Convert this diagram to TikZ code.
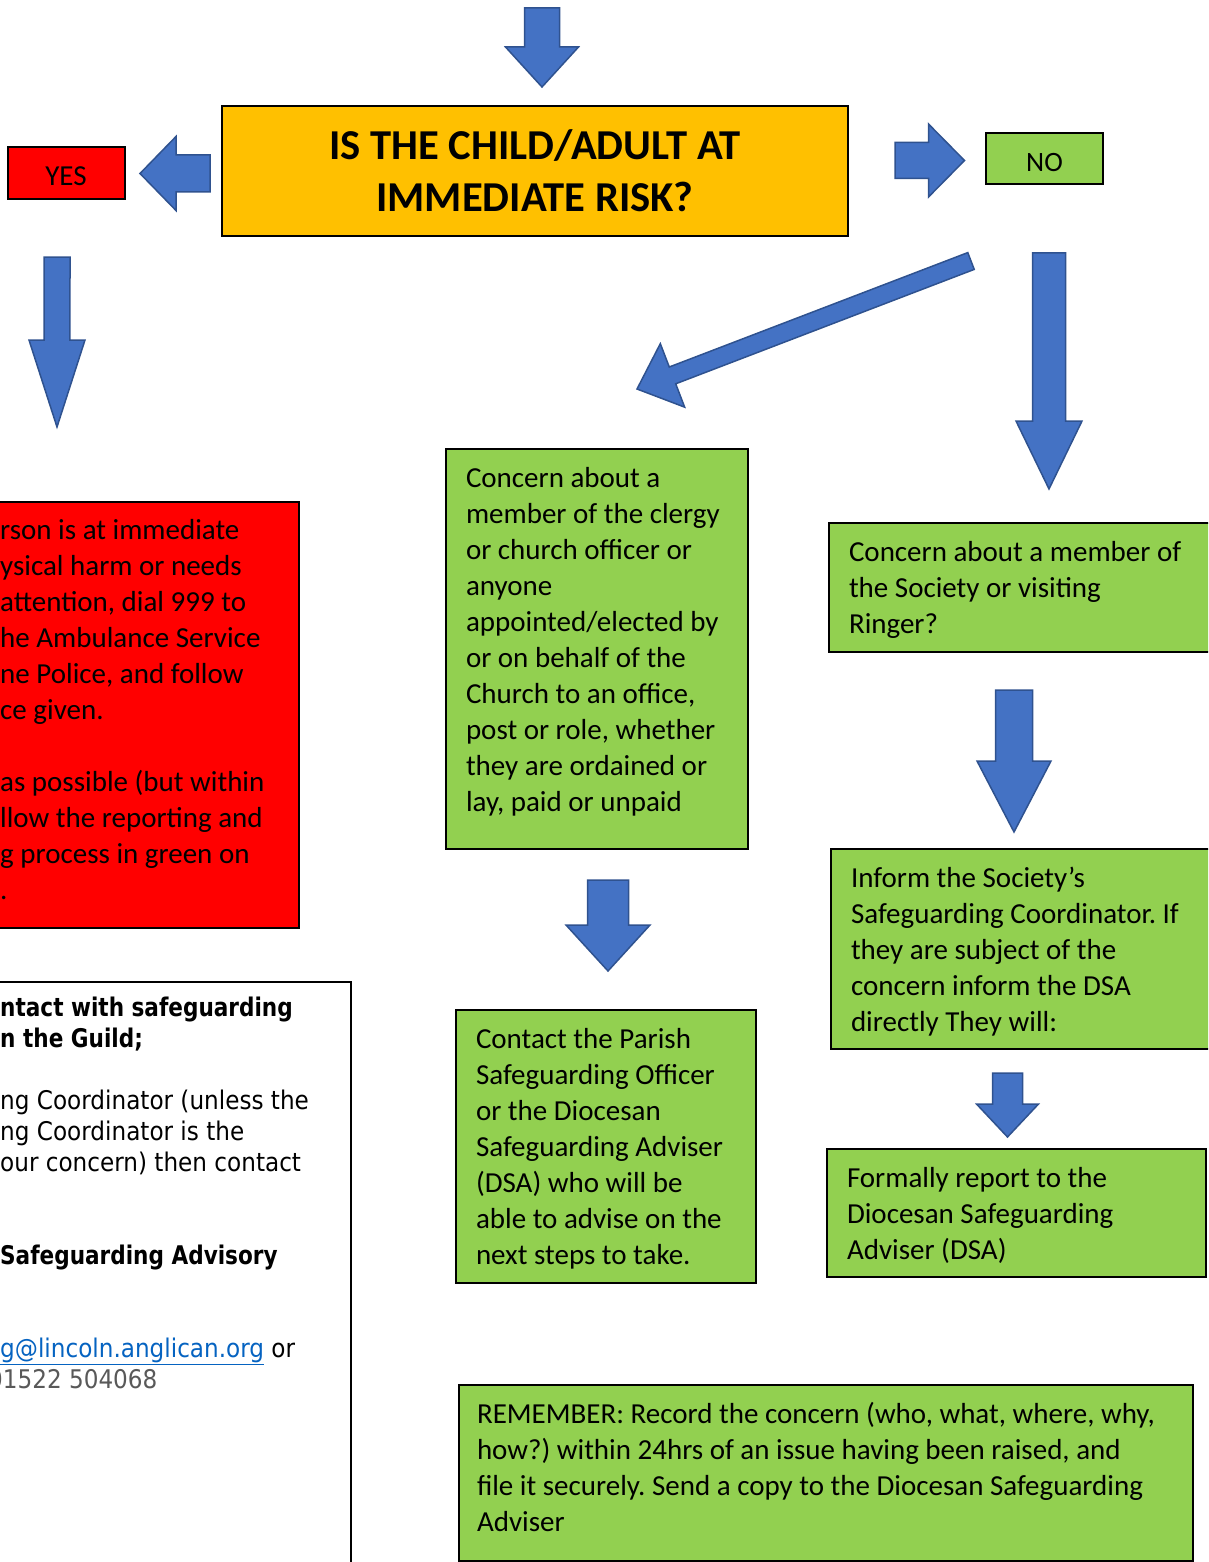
\documentclass[tikz,border=0pt]{standalone}
\usepackage{fontspec}
\setmainfont{Carlito}
\newfontfamily\tahoma[FakeStretch=0.9, BoldFeatures={FakeStretch=0.84}]{DejaVu Sans}
\usetikzlibrary{calc, positioning}
\frenchspacing

\definecolor{riskyellow}{HTML}{FFC000}
\definecolor{yesred}{HTML}{FF0000}
\definecolor{nogreen}{HTML}{92D050}
\definecolor{arrowblue}{HTML}{4472C4}
\definecolor{arrowrim}{HTML}{2F528F}
\definecolor{linkblue}{HTML}{0563C1}
\definecolor{phonegrey}{HTML}{595959}

\tikzset{
	box/.style={draw=black, line width=2pt, outer sep=0pt, inner xsep=20pt, inner ysep=13.5pt, anchor=north west, font=\fontsize{29}{36}\selectfont},
	greenbox/.style={box, fill=nogreen},
	fat/.style n args={3}{fill=arrowblue, draw=arrowrim, line width=1.5pt, line join=miter,
		to path={($(\tikztostart)!{#1*1pt}!90:(\tikztotarget)$)
			-- ($(\tikztotarget)!{sqrt((#3)^2+(#1)^2)*1pt}!{-atan(#1/#3)}:(\tikztostart)$)
			-- ($(\tikztotarget)!{sqrt((#3)^2+(#2)^2)*1pt}!{-atan(#2/#3)}:(\tikztostart)$)
			-- (\tikztotarget)
			-- ($(\tikztotarget)!{sqrt((#3)^2+(#2)^2)*1pt}!{atan(#2/#3)}:(\tikztostart)$)
			-- ($(\tikztotarget)!{sqrt((#3)^2+(#1)^2)*1pt}!{atan(#1/#3)}:(\tikztostart)$)
			-- ($(\tikztostart)!{#1*1pt}!-90:(\tikztotarget)$) -- cycle}},
}

\begin{document}
\begin{tikzpicture}[x=1pt, y=-1pt]
	\useasboundingbox (0,0) rectangle (1208,1562);
	\clip (0,0) rectangle (1208,1562);

	\node [box, fill=riskyellow, anchor=center, minimum width=626pt, minimum height=130pt, align=center, font=\bfseries\fontsize{42.6}{52}\selectfont] (risk) at (535,171) {IS THE CHILD/ADULT AT\\IMMEDIATE RISK?};
	\node [box, fill=yesred, anchor=center, minimum width=117pt, minimum height=52pt, inner sep=0pt, text height=25pt, text depth=0pt] (yes) at (66,173.5) {YES};
	\node [box, fill=nogreen, anchor=center, minimum width=117pt, minimum height=51pt, inner sep=0pt, text height=26pt, text depth=0pt, font=\fontsize{28}{34}\selectfont] (no) at (1044.5,158.5) {NO};

	\node [box, fill=yesred, minimum width=500pt, minimum height=426pt] (imm) at (-201,502) {};
	\node [anchor=base west, inner sep=0pt, font=\fontsize{29}{36}\selectfont] (immtext) at (0,539) {\parbox[t]{300pt}{rson is at immediate\\ ysical harm or needs\\ attention, dial 999 to\\ he Ambulance Service\\ ne Police, and follow\\ ce given.\\[36pt] as possible (but within\\ llow the reporting and\\ g process in green on\\ .}};

	\node [box, fill=white, minimum width=600pt, minimum height=700pt] (guild) at (-249,982) {};
	\node [anchor=base west, inner sep=0pt, font=\tahoma\fontsize{25.7}{31}\selectfont] (guildtext) at (0,1016) {\parbox[t]{350pt}{\textbf{ntact with safeguarding}\\ \textbf{n the Guild;}\\[31pt] ng Coordinator (unless the\\ ng Coordinator is the\\ our concern) then contact\\[62pt] \textbf{Safeguarding Advisory}\\[62pt] \textcolor{linkblue}{\underline{g@lincoln.anglican.org}} or\\ \hspace*{-12pt}\textcolor{phonegrey}{01522 504068}}};

	\node [greenbox] (clergy) at (446,449) {\parbox[t][373pt][t]{262pt}{\strut Concern about a\\ member of the clergy\\ or church officer or\\ anyone\\ appointed/elected by\\ or on behalf of the\\ Church to an office,\\ post or role, whether\\ they are ordained or\\ lay, paid or unpaid}};
	\node [greenbox] (ringer) at (829,523) {\parbox[t][102pt][t]{350pt}{\strut Concern about a member of\\ the Society or visiting\\ Ringer?}};
	\node [greenbox] (inform) at (831,849) {\parbox[t][173pt][t]{350pt}{\strut Inform the Society’s\\ Safeguarding Coordinator. If\\ they are subject of the\\ concern inform the DSA\\ directly They will:}};
	\node [greenbox] (parish) at (456,1010) {\parbox[t][246pt][t]{260pt}{\strut Contact the Parish\\ Safeguarding Officer\\ or the Diocesan\\ Safeguarding Adviser\\ (DSA) who will be\\ able to advise on the\\ next steps to take.}};
	\node [greenbox] (formal) at (827,1149) {\parbox[t][101pt][t]{339pt}{\strut Formally report to the\\ Diocesan Safeguarding\\ Adviser (DSA)}};
	\node [greenbox, inner xsep=18pt] (remember) at (459,1385) {\parbox[t][149pt][t]{698pt}{\strut REMEMBER: Record the concern (who, what, where, why,\\ how?) within 24hrs of an issue having been raised, and\\ file it securely. Send a copy to the Diocesan Safeguarding\\ Adviser}};

	\coordinate (feed) at (542,8);
	\coordinate (feedtip) at (542,87);
	\coordinate (yesfrom) at (210,173.5);
	\coordinate (yestip) at (140,173.5);
	\coordinate (yesdown) at (57,257);
	\coordinate (yesdowntip) at (57,427);
	\coordinate (nofrom) at (895,160.5);
	\coordinate (notip) at (964.5,160.5);
	\coordinate (clergyfrom) at (971,261);
	\coordinate (clergytip) at (637,389);
	\coordinate (ringerfrom) at (1049,253);
	\coordinate (ringertip) at (1049,489);
	\coordinate (informfrom) at (1014,690);
	\coordinate (informtip) at (1014,832);
	\coordinate (parishfrom) at (608,880);
	\coordinate (parishtip) at (608,971);
	\coordinate (formalfrom) at (1007.5,1073);
	\coordinate (formaltip) at (1007.5,1137);

	\path [fat={17.5}{36.5}{40}] (feed) to (feedtip);
	\path [fat={18.5}{37}{36}] (yesfrom) to (yestip);
	\path [fat={13}{28}{87}] (yesdown) to (yesdowntip);
	\path [fat={18}{36.5}{36}] (nofrom) to (notip);
	\path [fat={9}{34}{38}] (clergyfrom) to (clergytip);
	\path [fat={16.5}{33}{68}] (ringerfrom) to (ringertip);
	\path [fat={18.5}{37}{71}] (informfrom) to (informtip);
	\path [fat={20.5}{42}{46}] (parishfrom) to (parishtip);
	\path [fat={15}{31}{33}] (formalfrom) to (formaltip);
\end{tikzpicture}
\end{document}
